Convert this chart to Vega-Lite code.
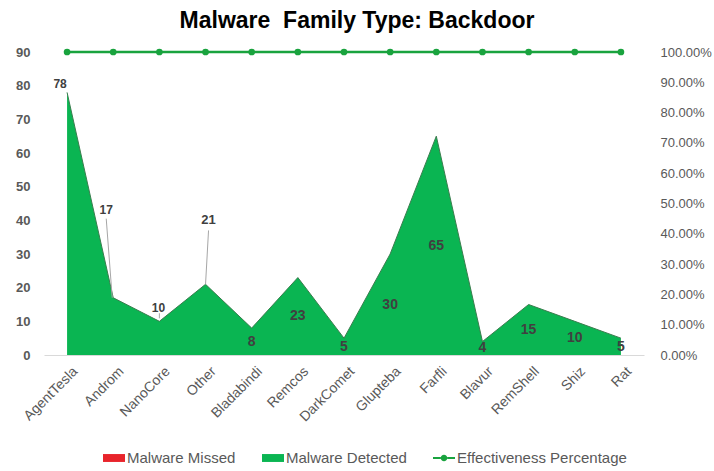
{
  "$schema": "https://vega.github.io/schema/vega-lite/v6.json",
  "width": 600,
  "height": 303,
  "autosize": {"type": "none"},
  "padding": {"left": 44, "top": 52, "right": 70, "bottom": 116},
  "background": "white",
  "title": {"text": "Malware\u00a0 Family Type: Backdoor", "fontSize": 23, "font": "Liberation Sans", "fontWeight": "bold", "color": "#000000", "anchor": "middle", "frame": "group", "dx": 13, "offset": 13},
  "datasets": {
    "malware": [
      {"family": "AgentTesla", "missed": 0, "detected": 78, "effectiveness": 1},
      {"family": "Androm", "missed": 0, "detected": 17, "effectiveness": 1},
      {"family": "NanoCore", "missed": 0, "detected": 10, "effectiveness": 1},
      {"family": "Other", "missed": 0, "detected": 21, "effectiveness": 1},
      {"family": "Bladabindi", "missed": 0, "detected": 8, "effectiveness": 1},
      {"family": "Remcos", "missed": 0, "detected": 23, "effectiveness": 1},
      {"family": "DarkComet", "missed": 0, "detected": 5, "effectiveness": 1},
      {"family": "Glupteba", "missed": 0, "detected": 30, "effectiveness": 1},
      {"family": "Farfli", "missed": 0, "detected": 65, "effectiveness": 1},
      {"family": "Blavur", "missed": 0, "detected": 4, "effectiveness": 1},
      {"family": "RemShell", "missed": 0, "detected": 15, "effectiveness": 1},
      {"family": "Shiz", "missed": 0, "detected": 10, "effectiveness": 1},
      {"family": "Rat", "missed": 0, "detected": 5, "effectiveness": 1}
    ],
    "legend": [
      {"series": "Malware Missed"},
      {"series": "Malware Detected"},
      {"series": "Effectiveness Percentage"}
    ]
  },
  "data": {"name": "malware"},
  "config": {
    "view": {"stroke": null},
    "font": "Liberation Sans",
    "axisLeft": {"labelColor": "#595959", "labelFontSize": 13, "labelFontWeight": "bold", "domain": false, "ticks": false, "grid": false, "labelPadding": 14, "labelOverlap": false},
    "axisRight": {"labelColor": "#595959", "labelFontSize": 13, "domain": false, "ticks": false, "grid": false, "labelPadding": 16, "labelOverlap": false},
    "axisBottom": {"labelColor": "#595959", "labelFontSize": 14, "domain": true, "domainColor": "#d9d9d9", "domainWidth": 1, "ticks": false, "grid": false, "labelPadding": 9, "labelAngle": -45, "labelOverlap": false}
  },
  "resolve": {"scale": {"y": "independent"}},
  "layer": [
    {
      "layer": [
        {
          "mark": {"type": "area", "color": "#0ab552", "opacity": 1, "line": {"color": "#3a7d4e", "strokeWidth": 1}},
          "encoding": {
            "x": {"field": "family", "type": "nominal", "sort": null, "scale": {"type": "point", "padding": 0.5}, "axis": {"title": null, "labelAngle": -45, "labelOffset": 3}},
            "y": {"field": "detected", "type": "quantitative", "scale": {"domain": [0, 90]}, "axis": {"title": null, "orient": "left", "values": [0, 10, 20, 30, 40, 50, 60, 70, 80, 90]}}
          }
        },
        {
          "transform": [{"filter": {"field": "family", "equal": "Androm"}}],
          "mark": {"type": "rule", "color": "#a6a6a6", "strokeWidth": 1, "xOffset": -1, "x2Offset": -7},
          "encoding": {
            "x": {"field": "family", "type": "nominal", "sort": null},
            "x2": {"field": "family"},
            "y": {"field": "detected", "type": "quantitative", "axis": {"title": null, "orient": "left", "values": [0, 10, 20, 30, 40, 50, 60, 70, 80, 90]}},
            "y2": {"datum": 40.5}
          }
        },
        {
          "transform": [{"filter": {"field": "family", "equal": "Other"}}],
          "mark": {"type": "rule", "color": "#a6a6a6", "strokeWidth": 1, "xOffset": 0, "x2Offset": 3},
          "encoding": {
            "x": {"field": "family", "type": "nominal", "sort": null},
            "x2": {"field": "family"},
            "y": {"field": "detected", "type": "quantitative", "axis": {"title": null, "orient": "left", "values": [0, 10, 20, 30, 40, 50, 60, 70, 80, 90]}},
            "y2": {"datum": 37}
          }
        },
        {
          "transform": [{"filter": {"field": "family", "equal": "NanoCore"}}],
          "mark": {"type": "rule", "color": "#a6a6a6", "strokeWidth": 1, "yOffset": -3},
          "encoding": {
            "x": {"field": "family", "type": "nominal", "sort": null},
            "y": {"field": "detected", "type": "quantitative", "axis": {"title": null, "orient": "left", "values": [0, 10, 20, 30, 40, 50, 60, 70, 80, 90]}},
            "y2": {"datum": 12.4}
          }
        },
        {
          "transform": [
            {"filter": {"field": "family", "oneOf": ["Bladabindi", "Remcos", "DarkComet", "Glupteba", "Farfli", "Blavur", "RemShell", "Shiz", "Rat"]}},
            {"calculate": "datum.detected / 2", "as": "mid"}
          ],
          "mark": {"type": "text", "fontSize": 14, "fontWeight": "bold", "color": "#404040", "baseline": "middle", "align": "center"},
          "encoding": {
            "x": {"field": "family", "type": "nominal", "sort": null},
            "y": {"field": "mid", "type": "quantitative", "axis": {"title": null, "orient": "left", "values": [0, 10, 20, 30, 40, 50, 60, 70, 80, 90]}},
            "text": {"field": "detected", "type": "quantitative"}
          }
        },
        {
          "transform": [{"filter": {"field": "family", "equal": "AgentTesla"}}],
          "mark": {"type": "text", "fontSize": 12, "fontWeight": "bold", "color": "#404040", "baseline": "middle", "align": "center", "dx": -7, "dy": -8},
          "encoding": {
            "x": {"field": "family", "type": "nominal", "sort": null},
            "y": {"field": "detected", "type": "quantitative", "axis": {"title": null, "orient": "left", "values": [0, 10, 20, 30, 40, 50, 60, 70, 80, 90]}},
            "text": {"field": "detected", "type": "quantitative"}
          }
        },
        {
          "transform": [{"filter": {"field": "family", "equal": "Androm"}}],
          "mark": {"type": "text", "fontSize": 12, "fontWeight": "bold", "color": "#404040", "baseline": "middle", "align": "center", "dx": -7, "dy": -88},
          "encoding": {
            "x": {"field": "family", "type": "nominal", "sort": null},
            "y": {"field": "detected", "type": "quantitative", "axis": {"title": null, "orient": "left", "values": [0, 10, 20, 30, 40, 50, 60, 70, 80, 90]}},
            "text": {"field": "detected", "type": "quantitative"}
          }
        },
        {
          "transform": [{"filter": {"field": "family", "equal": "NanoCore"}}],
          "mark": {"type": "text", "fontSize": 12, "fontWeight": "bold", "color": "#404040", "baseline": "middle", "align": "center", "dx": -1, "dy": -13},
          "encoding": {
            "x": {"field": "family", "type": "nominal", "sort": null},
            "y": {"field": "detected", "type": "quantitative", "axis": {"title": null, "orient": "left", "values": [0, 10, 20, 30, 40, 50, 60, 70, 80, 90]}},
            "text": {"field": "detected", "type": "quantitative"}
          }
        },
        {
          "transform": [{"filter": {"field": "family", "equal": "Other"}}],
          "mark": {"type": "text", "fontSize": 13, "fontWeight": "bold", "color": "#404040", "baseline": "middle", "align": "center", "dx": 3, "dy": -64},
          "encoding": {
            "x": {"field": "family", "type": "nominal", "sort": null},
            "y": {"field": "detected", "type": "quantitative", "axis": {"title": null, "orient": "left", "values": [0, 10, 20, 30, 40, 50, 60, 70, 80, 90]}},
            "text": {"field": "detected", "type": "quantitative"}
          }
        },
        {
          "data": {"name": "legend"},
          "mark": {"type": "point", "filled": true, "xOffset": -3000, "opacity": 1},
          "encoding": {
            "color": {
              "field": "series", "type": "nominal",
              "scale": {"domain": ["Malware Missed", "Malware Detected", "Effectiveness Percentage"], "range": ["#e8242b", "#0ab552", "#19a33e"]},
              "legend": {"orient": "none", "legendX": 59, "legendY": 395, "direction": "horizontal", "title": null, "symbolSize": 484, "labelFontSize": 15, "labelColor": "#595959", "labelOffset": 2, "columnPadding": 26, "symbolStrokeWidth": 0, "symbolOpacity": 1, "labelLimit": 300}
            },
            "shape": {
              "field": "series", "type": "nominal",
              "scale": {"domain": ["Malware Missed", "Malware Detected", "Effectiveness Percentage"], "range": ["M-1,-0.36H1V0.36H-1Z", "M-1,-0.36H1V0.36H-1Z", "M-1,-0.09H-0.3V0.09H-1Z M0.3,-0.09H1V0.09H0.3Z M0.3,0A0.3,0.3 0 1 1 -0.3,0A0.3,0.3 0 1 1 0.3,0Z"]},
              "legend": {"orient": "none", "legendX": 59, "legendY": 395, "direction": "horizontal", "title": null, "symbolSize": 484, "labelFontSize": 15, "labelColor": "#595959", "labelOffset": 2, "columnPadding": 26, "symbolStrokeWidth": 0, "symbolOpacity": 1, "labelLimit": 300}
            }
          }
        }
      ]
    },
    {
      "mark": {"type": "line", "color": "#19a33e", "strokeWidth": 2.5, "point": {"filled": true, "size": 45, "color": "#19a33e"}},
      "encoding": {
        "x": {"field": "family", "type": "nominal", "sort": null},
        "y": {"field": "effectiveness", "type": "quantitative", "scale": {"domain": [0, 1]}, "axis": {"title": null, "orient": "right", "format": ".2%", "values": [0, 0.1, 0.2, 0.3, 0.4, 0.5, 0.6, 0.7, 0.8, 0.9, 1]}}
      }
    }
  ]
}
